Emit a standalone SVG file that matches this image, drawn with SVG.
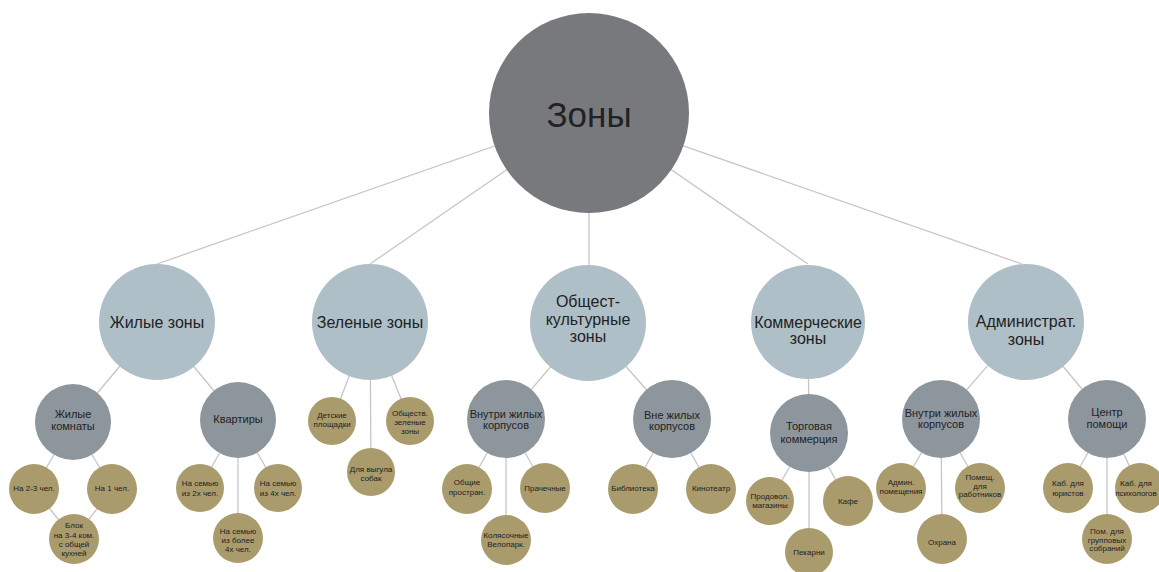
<svg xmlns="http://www.w3.org/2000/svg" width="1159" height="572" viewBox="0 0 1159 572">
<style>
.bg{fill:#ffffff}
.ln{stroke:#c6c6c6;stroke-width:1.3;fill:none}
.root{fill:#78797d}
.l1{fill:#afbfc8}
.l2{fill:#8d969d}
.l3{fill:#a99b6c}
text{font-family:"Liberation Sans","DejaVu Sans",sans-serif;fill:#222222;text-anchor:middle}
.t0{font-size:35px}
.t1{font-size:16px}
.t2{font-size:11px}
.t3{font-size:8px}
</style>
<rect class="bg" x="0" y="0" width="1159" height="572"/>
<g id="connectors">
<line class="ln" x1="589" y1="113" x2="157" y2="264"/>
<line class="ln" x1="589" y1="113" x2="370" y2="264"/>
<line class="ln" x1="589" y1="113" x2="589" y2="265"/>
<line class="ln" x1="589" y1="113" x2="808" y2="264"/>
<line class="ln" x1="589" y1="113" x2="1022" y2="264"/>
<line class="ln" x1="157" y1="322" x2="73" y2="422"/>
<line class="ln" x1="157" y1="322" x2="238" y2="420"/>
<line class="ln" x1="73" y1="422" x2="34" y2="489"/>
<line class="ln" x1="73" y1="422" x2="112" y2="489"/>
<line class="ln" x1="34" y1="489" x2="74" y2="539"/>
<line class="ln" x1="112" y1="489" x2="74" y2="539"/>
<line class="ln" x1="238" y1="420" x2="200" y2="488"/>
<line class="ln" x1="238" y1="420" x2="278" y2="488"/>
<line class="ln" x1="238" y1="420" x2="238" y2="538"/>
<line class="ln" x1="370" y1="322" x2="332" y2="421"/>
<line class="ln" x1="370" y1="322" x2="410" y2="421"/>
<line class="ln" x1="370" y1="322" x2="371" y2="472"/>
<line class="ln" x1="588" y1="323" x2="506" y2="419"/>
<line class="ln" x1="588" y1="323" x2="672" y2="419"/>
<line class="ln" x1="506" y1="419" x2="467" y2="489"/>
<line class="ln" x1="506" y1="419" x2="545" y2="488"/>
<line class="ln" x1="506" y1="419" x2="506" y2="540"/>
<line class="ln" x1="672" y1="419" x2="633" y2="489"/>
<line class="ln" x1="672" y1="419" x2="711" y2="489"/>
<line class="ln" x1="808" y1="322" x2="809" y2="433"/>
<line class="ln" x1="809" y1="433" x2="770" y2="501"/>
<line class="ln" x1="809" y1="433" x2="848" y2="501"/>
<line class="ln" x1="809" y1="433" x2="809" y2="552"/>
<line class="ln" x1="1026" y1="322" x2="941" y2="419"/>
<line class="ln" x1="1026" y1="322" x2="1107" y2="419"/>
<line class="ln" x1="941" y1="419" x2="901" y2="488"/>
<line class="ln" x1="941" y1="419" x2="980" y2="488"/>
<line class="ln" x1="941" y1="419" x2="942" y2="539"/>
<line class="ln" x1="1107" y1="419" x2="1068" y2="488"/>
<line class="ln" x1="1107" y1="419" x2="1140" y2="488"/>
<line class="ln" x1="1107" y1="419" x2="1107" y2="539"/>
</g>
<g id="n-root"><circle class="root" cx="589" cy="113" r="100"/><text class="t0" x="589" y="127">Зоны</text></g>
<g id="n-zhilye"><circle class="l1" cx="157" cy="322" r="58"/><text class="t1" x="157" y="328">Жилые зоны</text></g>
<g id="n-zelenye"><circle class="l1" cx="370" cy="322" r="58"/><text class="t1" x="370" y="328">Зеленые зоны</text></g>
<g id="n-obsh"><circle class="l1" cx="588" cy="323" r="58"/><text class="t1" x="588" y="307">Общест-</text><text class="t1" x="588" y="325">культурные</text><text class="t1" x="588" y="342">зоны</text></g>
<g id="n-komm"><circle class="l1" cx="808" cy="322" r="57"/><text class="t1" x="808" y="328">Коммерческие</text><text class="t1" x="808" y="344">зоны</text></g>
<g id="n-admin"><circle class="l1" cx="1026" cy="322" r="58"/><text class="t1" x="1026" y="327">Администрат.</text><text class="t1" x="1026" y="345">зоны</text></g>

<g id="n-zh-komnaty"><circle class="l2" cx="73" cy="422" r="38"/><text class="t2" x="73" y="418">Жилые</text><text class="t2" x="73" y="430">комнаты</text></g>
<g id="n-kvartiry"><circle class="l2" cx="238" cy="420" r="38"/><text class="t2" x="238" y="423">Квартиры</text></g>
<g id="n-obsh-vnutri"><circle class="l2" cx="506" cy="419" r="39"/><text class="t2" x="506" y="418">Внутри жилых</text><text class="t2" x="506" y="429">корпусов</text></g>
<g id="n-obsh-vne"><circle class="l2" cx="672" cy="419" r="39"/><text class="t2" x="672" y="419">Вне жилых</text><text class="t2" x="672" y="430">корпусов</text></g>
<g id="n-torg"><circle class="l2" cx="809" cy="433" r="39"/><text class="t2" x="809" y="430">Торговая</text><text class="t2" x="809" y="443">коммерция</text></g>
<g id="n-adm-vnutri"><circle class="l2" cx="941" cy="419" r="39"/><text class="t2" x="941" y="417">Внутри жилых</text><text class="t2" x="941" y="428">корпусов</text></g>
<g id="n-centr"><circle class="l2" cx="1107" cy="419" r="39"/><text class="t2" x="1107" y="416">Центр</text><text class="t2" x="1107" y="428">помощи</text></g>

<g id="n-na23"><circle class="l3" cx="34" cy="489" r="25"/><text class="t3" x="34" y="491">На 2-3 чел.</text></g>
<g id="n-na1"><circle class="l3" cx="112" cy="489" r="25"/><text class="t3" x="112" y="491">На 1 чел.</text></g>
<g id="n-blok"><circle class="l3" cx="74" cy="539" r="25"/><text class="t3" x="74" y="528">Блок</text><text class="t3" x="74" y="538">на 3-4 ком.</text><text class="t3" x="74" y="547">с общей</text><text class="t3" x="74" y="556">кухней</text></g>
<g id="n-sem2"><circle class="l3" cx="200" cy="488" r="24"/><text class="t3" x="200" y="486">На семью</text><text class="t3" x="200" y="496">из 2х чел.</text></g>
<g id="n-sem4"><circle class="l3" cx="278" cy="488" r="24"/><text class="t3" x="278" y="486">На семью</text><text class="t3" x="278" y="496">из 4х чел.</text></g>
<g id="n-sem-bolee"><circle class="l3" cx="238" cy="538" r="25"/><text class="t3" x="238" y="534">На семью</text><text class="t3" x="238" y="543">из более</text><text class="t3" x="238" y="552">4х чел.</text></g>
<g id="n-detskie"><circle class="l3" cx="332" cy="421" r="24"/><text class="t3" x="332" y="418">Детские</text><text class="t3" x="332" y="427">площадки</text></g>
<g id="n-obshestv"><circle class="l3" cx="410" cy="421" r="24"/><text class="t3" x="410" y="416">Обществ.</text><text class="t3" x="410" y="425">зеленые</text><text class="t3" x="410" y="434">зоны</text></g>
<g id="n-vygul"><circle class="l3" cx="371" cy="472" r="24"/><text class="t3" x="371" y="472">Для выгула</text><text class="t3" x="371" y="481">собак</text></g>
<g id="n-obshie"><circle class="l3" cx="467" cy="489" r="25"/><text class="t3" x="467" y="485">Общие</text><text class="t3" x="467" y="495">простран.</text></g>
<g id="n-prach"><circle class="l3" cx="545" cy="488" r="25"/><text class="t3" x="545" y="491">Прачечные</text></g>
<g id="n-kolyas"><circle class="l3" cx="506" cy="540" r="25"/><text class="t3" x="506" y="538">Колясочные</text><text class="t3" x="506" y="547">Велопарк.</text></g>
<g id="n-biblio"><circle class="l3" cx="633" cy="489" r="25"/><text class="t3" x="633" y="491">Библиотека</text></g>
<g id="n-kino"><circle class="l3" cx="711" cy="489" r="25"/><text class="t3" x="711" y="491">Кинотеатр</text></g>
<g id="n-prodovol"><circle class="l3" cx="770" cy="501" r="24"/><text class="t3" x="770" y="499">Продовол.</text><text class="t3" x="770" y="508">магазины</text></g>
<g id="n-kafe"><circle class="l3" cx="848" cy="501" r="25"/><text class="t3" x="848" y="504">Кафе</text></g>
<g id="n-pekarni"><circle class="l3" cx="809" cy="552" r="24"/><text class="t3" x="809" y="555">Пекарни</text></g>
<g id="n-admin-pom"><circle class="l3" cx="901" cy="488" r="25"/><text class="t3" x="901" y="485">Админ.</text><text class="t3" x="901" y="494">помещения</text></g>
<g id="n-pom-rab"><circle class="l3" cx="980" cy="488" r="25"/><text class="t3" x="980" y="480">Помещ.</text><text class="t3" x="980" y="489">для</text><text class="t3" x="980" y="497">работников</text></g>
<g id="n-ohrana"><circle class="l3" cx="942" cy="539" r="25"/><text class="t3" x="942" y="545">Охрана</text></g>
<g id="n-yurist"><circle class="l3" cx="1068" cy="488" r="25"/><text class="t3" x="1068" y="486">Каб. для</text><text class="t3" x="1068" y="496">юристов</text></g>
<g id="n-psiholog"><circle class="l3" cx="1140" cy="488" r="25"/><text class="t3" x="1136" y="486">Каб. для</text><text class="t3" x="1136" y="496">психологов</text></g>
<g id="n-gruppa"><circle class="l3" cx="1107" cy="539" r="25"/><text class="t3" x="1107" y="534">Пом. для</text><text class="t3" x="1107" y="543">групповых</text><text class="t3" x="1107" y="551">собраний</text></g>
</svg>
